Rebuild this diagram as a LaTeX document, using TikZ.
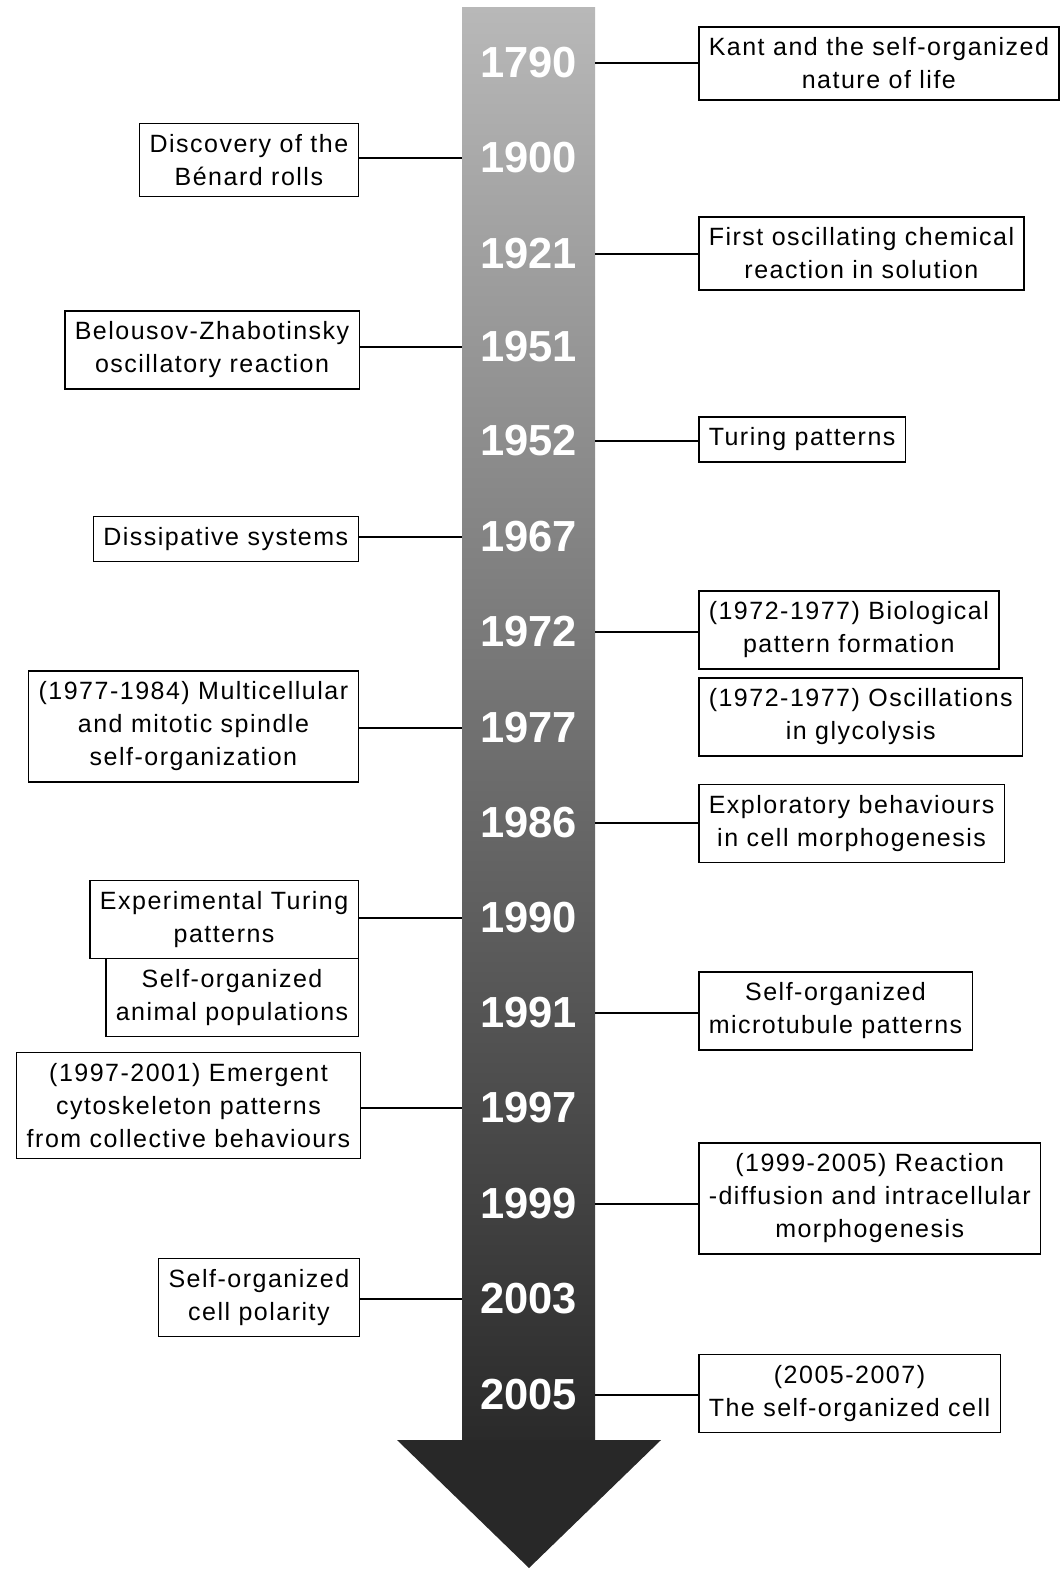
\documentclass[tikz,border=0pt]{standalone}
\usepackage{fontspec}
\setmainfont{Liberation Sans}[LetterSpace=6]
\newfontfamily\yearfont{Liberation Sans}
\usetikzlibrary{positioning}
\definecolor{barTop}{RGB}{184,184,184}
\definecolor{barBottom}{RGB}{42,42,42}
\definecolor{headDark}{RGB}{40,40,40}

\begin{document}
\begin{tikzpicture}[
    x=1pt, y=-1pt,
    every node/.style={font=\fontsize{25}{33}\selectfont},
    year/.style={minimum width=133pt, inner sep=0pt, text=white, font=\yearfont\bfseries\fontsize{43.5}{43.5}\selectfont},
    event/.style={draw, line width=1.5pt, align=center, inner xsep=10pt, inner ysep=11pt},
    rightev/.style={event, anchor=west},
    leftev/.style={event, anchor=east},
    link/.style={line width=1.5pt}
]
\useasboundingbox (0,0) rectangle (1062,1571);
% the time bar and its arrow head
\shade[top color=barTop, bottom color=barBottom] (462,8) rectangle (595,1441);
\fill[headDark] (397,1440) -- (661,1440) -- (529,1568) -- cycle;
% years
\node[year] (y1790) at (528.5,63) {1790};
\node[year] (y1900) at (528.5,158) {1900};
\node[year] (y1921) at (528.5,254) {1921};
\node[year] (y1951) at (528.5,347) {1951};
\node[year] (y1952) at (528.5,441) {1952};
\node[year] (y1967) at (528.5,537) {1967};
\node[year] (y1972) at (528.5,632) {1972};
\node[year] (y1977) at (528.5,728) {1977};
\node[year] (y1986) at (528.5,823) {1986};
\node[year] (y1990) at (528.5,918) {1990};
\node[year] (y1991) at (528.5,1013) {1991};
\node[year] (y1997) at (528.5,1108) {1997};
\node[year] (y1999) at (528.5,1204) {1999};
\node[year] (y2003) at (528.5,1299) {2003};
\node[year] (y2005) at (528.5,1395) {2005};
% events on the right
\node[rightev] (kant) at (698,63.5) {Kant and the self-organized\\nature of life};
\node[rightev] (oscchem) at (698,253.5) {First oscillating chemical\\reaction in solution};
\node[rightev] (turing) at (698,439.5) {Turing patterns};
\node[rightev] (biopat) at (698,630) {(1972-1977) Biological\\pattern formation};
\node[rightev] (glyco) at (698,717) {(1972-1977) Oscillations\\in glycolysis};
\node[rightev] (explor) at (698,823.5) {Exploratory behaviours\\in cell morphogenesis};
\node[rightev] (microtub) at (698,1011) {Self-organized\\microtubule patterns};
\node[rightev] (reacdiff) at (698,1198.5) {(1999-2005) Reaction\\-diffusion and intracellular\\morphogenesis};
\node[rightev] (selfcell) at (698,1393.5) {(2005-2007)\\The self-organized cell};
% events on the left
\node[leftev] (benard) at (359,160) {Discovery of the\\Bénard rolls};
\node[leftev] (belousov) at (360,350) {Belousov-Zhabotinsky\\oscillatory reaction};
\node[leftev] (dissip) at (359,539) {Dissipative systems};
\node[leftev] (multicell) at (359,726.5) {(1977-1984) Multicellular\\and mitotic spindle\\self-organization};
\node[leftev] (expturing) at (359,919.5) {Experimental Turing\\patterns};
\node[leftev] (animal) at (359,997.5) {Self-organized\\animal populations};
\node[leftev] (cytoskel) at (361,1105.5) {(1997-2001) Emergent\\cytoskeleton patterns\\from collective behaviours};
\node[leftev] (polarity) at (360,1297.5) {Self-organized\\cell polarity};
% connectors
\draw[link] (y1790.east) -- (y1790.east -| kant.west);
\draw[link] (y1921.east) -- (y1921.east -| oscchem.west);
\draw[link] (y1952.east) -- (y1952.east -| turing.west);
\draw[link] (y1972.east) -- (y1972.east -| biopat.west);
\draw[link] (y1986.east) -- (y1986.east -| explor.west);
\draw[link] (y1991.east) -- (y1991.east -| microtub.west);
\draw[link] (y1999.east) -- (y1999.east -| reacdiff.west);
\draw[link] (y2005.east) -- (y2005.east -| selfcell.west);
\draw[link] (y1900.west) -- (y1900.west -| benard.east);
\draw[link] (y1951.west) -- (y1951.west -| belousov.east);
\draw[link] (y1967.west) -- (y1967.west -| dissip.east);
\draw[link] (y1977.west) -- (y1977.west -| multicell.east);
\draw[link] (y1990.west) -- (y1990.west -| expturing.east);
\draw[link] (y1997.west) -- (y1997.west -| cytoskel.east);
\draw[link] (y2003.west) -- (y2003.west -| polarity.east);
\end{tikzpicture}
\end{document}
